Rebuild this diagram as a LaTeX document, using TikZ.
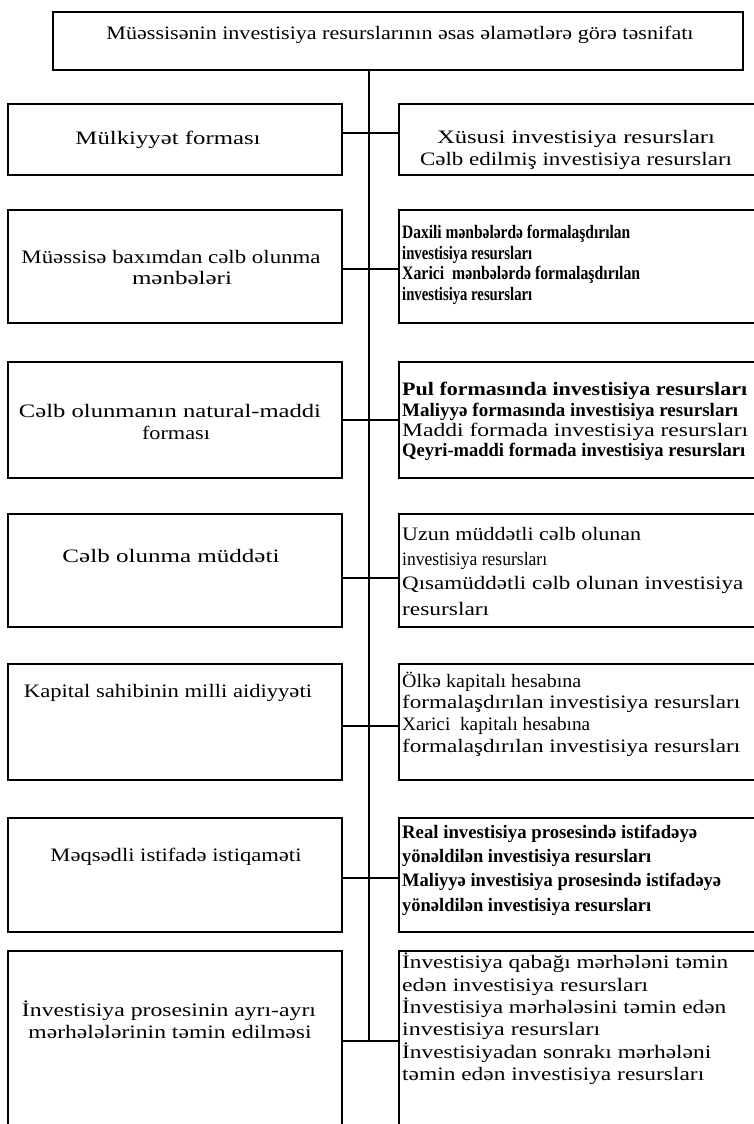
\documentclass[tikz,border=0pt]{standalone}
\usepackage{fontspec}
\setmainfont{Liberation Serif}
\usepackage{graphicx}
% set a line of text to a given width, keeping its height
\newcommand\fitline[2]{\resizebox{#1pt}{\height}{#2}}

\begin{document}
\begin{tikzpicture}[x=1pt,y=-1pt,
  box/.style={draw, line width=1.6pt, inner sep=0pt, anchor=north west},
  wire/.style={line width=1.5pt},
  txt/.style={inner sep=0pt, font=\fontsize{19}{22}\selectfont},
  lt/.style={txt, anchor=base},
  rt/.style={txt, anchor=base west}]
\useasboundingbox (0,0) rectangle (754,1124);
\clip (0,0) rectangle (754,1124);

% header box
\node[box, minimum width=690pt, minimum height=58pt] (top) at (52,11) {};
\node[lt] (ttl) at (400,40) {\fitline{587}{Müəssisənin investisiya resurslarının əsas əlamətlərə görə təsnifatı}};

% criteria (left) and classes (right)
\node[box, minimum width=334pt, minimum height=71pt]  (l1) at (7,103) {};
\node[box, minimum width=372pt, minimum height=71pt]  (r1) at (398,103) {};
\node[box, minimum width=334pt, minimum height=113pt] (l2) at (7,209) {};
\node[box, minimum width=372pt, minimum height=113pt] (r2) at (398,209) {};
\node[box, minimum width=334pt, minimum height=116pt] (l3) at (7,361) {};
\node[box, minimum width=372pt, minimum height=116pt] (r3) at (398,361) {};
\node[box, minimum width=334pt, minimum height=113pt] (l4) at (7,513) {};
\node[box, minimum width=372pt, minimum height=113pt] (r4) at (398,513) {};
\node[box, minimum width=334pt, minimum height=116pt] (l5) at (7,663) {};
\node[box, minimum width=372pt, minimum height=116pt] (r5) at (398,663) {};
\node[box, minimum width=334pt, minimum height=114pt] (l6) at (7,817) {};
\node[box, minimum width=372pt, minimum height=114pt] (r6) at (398,817) {};
\node[box, minimum width=334pt, minimum height=200pt] (l7) at (7,950) {};
\node[box, minimum width=372pt, minimum height=200pt] (r7) at (398,950) {};

% junctions on the spine
\coordinate (j1) at (369,133);
\coordinate (j2) at (369,269);
\coordinate (j3) at (369,420);
\coordinate (j4) at (369,578);
\coordinate (j5) at (369,726);
\coordinate (j6) at (369,878);
\coordinate (j7) at (369,1041);

\draw[wire] (top.south -| j1) -- (j7);
\foreach \i in {1,...,7}
  \draw[wire] (l\i.east |- j\i) -- (r\i.west |- j\i);

% row 1
\node[lt] (l1a) at (168,144) {\fitline{185}{Mülkiyyət forması}};
\node[lt] (r1a) at (576,143) {\fitline{278}{Xüsusi investisiya resursları}};
\node[lt] (r1b) at (576,165) {\fitline{312}{Cəlb edilmiş investisiya resursları}};

% row 2
\node[lt] (l2a) at (171,263) {\fitline{299}{Müəssisə baxımdan cəlb olunma}};
\node[lt] (l2b) at (182,284) {\fitline{100}{mənbələri}};
\node[rt] (r2a) at (402,238) {\fitline{228}{\bfseries Daxili mənbələrdə formalaşdırılan}};
\node[rt] (r2b) at (402,259) {\fitline{130}{\bfseries investisiya resursları}};
\node[rt] (r2c) at (402,279) {\fitline{238}{\bfseries Xarici\ \ mənbələrdə formalaşdırılan}};
\node[rt] (r2d) at (402,300) {\fitline{130}{\bfseries investisiya resursları}};

% row 3
\node[lt] (l3a) at (170,417) {\fitline{302}{Cəlb olunmanın natural-maddi}};
\node[lt] (l3b) at (176,439) {\fitline{68}{forması}};
\node[rt] (r3a) at (402,395) {\fitline{345}{\bfseries Pul formasında investisiya resursları}};
\node[rt] (r3b) at (402,416) {\fitline{336}{\bfseries Maliyyə formasında investisiya resursları}};
\node[rt] (r3c) at (402,436) {\fitline{346}{Maddi formada investisiya resursları}};
\node[rt] (r3d) at (402,456) {\fitline{343}{\bfseries Qeyri-maddi formada investisiya resursları}};

% row 4
\node[lt] (l4a) at (171,562) {\fitline{217}{Cəlb olunma müddəti}};
\node[rt] (r4a) at (402,540) {\fitline{239}{Uzun müddətli cəlb olunan}};
\node[rt] (r4b) at (402,565) {\fitline{145}{investisiya resursları}};
\node[rt] (r4c) at (402,589) {\fitline{341}{Qısamüddətli cəlb olunan investisiya}};
\node[rt] (r4d) at (402,615) {\fitline{87}{resursları}};

% row 5
\node[lt] (l5a) at (168,697) {\fitline{288}{Kapital sahibinin milli aidiyyəti}};
\node[rt] (r5a) at (402,687) {\fitline{179}{Ölkə kapitalı hesabına}};
\node[rt] (r5b) at (402,708) {\fitline{338}{formalaşdırılan investisiya resursları}};
\node[rt] (r5c) at (402,730) {\fitline{188}{Xarici\ \ kapitalı hesabına}};
\node[rt] (r5d) at (402,752) {\fitline{338}{formalaşdırılan investisiya resursları}};

% row 6
\node[lt] (l6a) at (176,861) {\fitline{251}{Məqsədli istifadə istiqaməti}};
\node[rt] (r6a) at (402,838) {\fitline{295}{\bfseries Real investisiya prosesində istifadəyə}};
\node[rt] (r6b) at (402,862) {\fitline{249}{\bfseries yönəldilən investisiya resursları}};
\node[rt] (r6c) at (402,886) {\fitline{319}{\bfseries Maliyyə investisiya prosesində istifadəyə}};
\node[rt] (r6d) at (402,911) {\fitline{249}{\bfseries yönəldilən investisiya resursları}};

% row 7
\node[lt] (l7a) at (169,1016) {\fitline{294}{İnvestisiya prosesinin ayrı-ayrı}};
\node[lt] (l7b) at (170,1038) {\fitline{283}{mərhələlərinin təmin edilməsi}};
\node[rt] (r7a) at (402,968)  {\fitline{326}{İnvestisiya qabağı mərhələni təmin}};
\node[rt] (r7b) at (402,991)  {\fitline{246}{edən investisiya resursları}};
\node[rt] (r7c) at (402,1013) {\fitline{324}{İnvestisiya mərhələsini təmin edən}};
\node[rt] (r7d) at (402,1035) {\fitline{198}{investisiya resursları}};
\node[rt] (r7e) at (402,1058) {\fitline{309}{İnvestisiyadan sonrakı mərhələni}};
\node[rt] (r7f) at (402,1080) {\fitline{302}{təmin edən investisiya resursları}};
\end{tikzpicture}
\end{document}
